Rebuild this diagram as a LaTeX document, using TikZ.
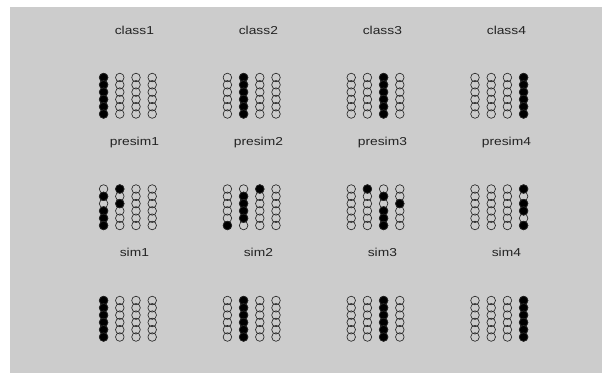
\documentclass[tikz,border=0pt]{standalone}
\usepackage{fontspec}
\setmainfont{Liberation Sans}[FakeStretch=1.2]
\usepackage{xcolor}
\usepackage{tikz}
\usetikzlibrary{positioning}
\definecolor{panelGray}{RGB}{204, 204, 204}
\definecolor{labelInk}{RGB}{34, 34, 34}

% 4x6 dot matrix: x, y of the top-left dot, filled cells as col/row
\newcommand{\dotgrid}[3]{%
  \foreach \col in {0,...,3}
    \foreach \row in {0,...,5}
      \draw[dot] ({#1+\col*16.2}, {#2+\row*7.3}) circle[radius=4.3bp];
  \foreach \col/\row in {#3}
    \filldraw[dot, fill=black] ({#1+(\col-1)*16.2}, {#2+(\row-1)*7.3}) circle[radius=4.3bp];
}

\begin{document}
\begin{tikzpicture}[
            x=1bp, y=-1bp,
            lbl/.style={anchor=base, inner sep=0pt, text=labelInk, font=\fontsize{11.5bp}{13bp}\selectfont},
            dot/.style={draw=black!85, line width=0.65pt}
        ]
            \useasboundingbox (0,0) rectangle (602,373);
            \fill[white] (0,0) rectangle (602,373);
            \fill[panelGray] (10,7) rectangle (602,373);

            \node[lbl] (cls1) at (134.4,34.3) {class1};
            \node[lbl] (cls2) at (258.4,34.3) {class2};
            \node[lbl] (cls3) at (382.4,34.3) {class3};
            \node[lbl] (cls4) at (506.4,34.3) {class4};

            \node[lbl] (pre1) at (134.4,145.5) {presim1};
            \node[lbl] (pre2) at (258.4,145.5) {presim2};
            \node[lbl] (pre3) at (382.4,145.5) {presim3};
            \node[lbl] (pre4) at (506.4,145.5) {presim4};

            \node[lbl] (sim1) at (134.4,256.7) {sim1};
            \node[lbl] (sim2) at (258.4,256.7) {sim2};
            \node[lbl] (sim3) at (382.4,256.7) {sim3};
            \node[lbl] (sim4) at (506.4,256.7) {sim4};

            % class patterns
            \dotgrid{103.6}{77.5}{1/1,1/2,1/3,1/4,1/5,1/6}
            \dotgrid{227.4}{77.5}{2/1,2/2,2/3,2/4,2/5,2/6}
            \dotgrid{351.2}{77.5}{3/1,3/2,3/3,3/4,3/5,3/6}
            \dotgrid{475.0}{77.5}{4/1,4/2,4/3,4/4,4/5,4/6}

            % presented patterns
            \dotgrid{103.6}{189.0}{1/2,1/4,1/5,1/6,2/1,2/3}
            \dotgrid{227.4}{189.0}{1/6,2/2,2/3,2/4,2/5,3/1}
            \dotgrid{351.2}{189.0}{2/1,3/2,3/4,3/5,3/6,4/3}
            \dotgrid{475.0}{189.0}{4/1,4/3,4/4,4/6}

            % recalled patterns
            \dotgrid{103.6}{300.5}{1/1,1/2,1/3,1/4,1/5,1/6}
            \dotgrid{227.4}{300.5}{2/1,2/2,2/3,2/4,2/5,2/6}
            \dotgrid{351.2}{300.5}{3/1,3/2,3/3,3/4,3/5,3/6}
            \dotgrid{475.0}{300.5}{4/1,4/2,4/3,4/4,4/5,4/6}
        \end{tikzpicture}
\end{document}
